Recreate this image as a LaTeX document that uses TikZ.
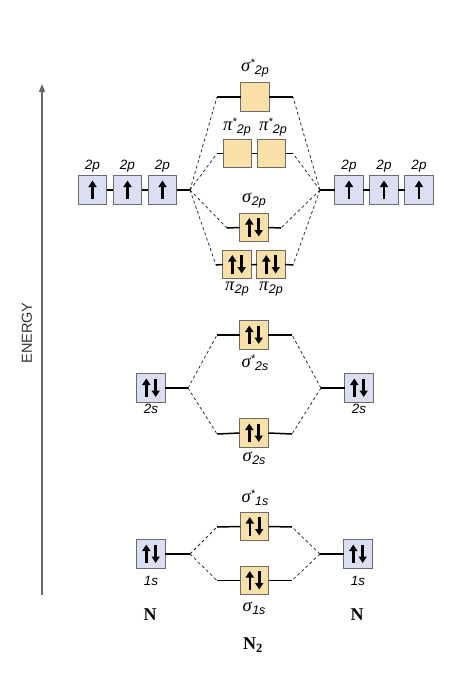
\documentclass[tikz,border=0pt]{standalone}
\usepackage{fontspec}
\setmainfont{Liberation Sans}
\newfontfamily\grfont{Liberation Serif}
\usetikzlibrary{arrows.meta}
\definecolor{aofill}{HTML}{DCDFF3}
\definecolor{mofill}{HTML}{F8E0A6}
\definecolor{boxline}{HTML}{6B6B6B}
\definecolor{axisgray}{HTML}{666666}
\newcommand\molss[3]{{\grfont\itshape #1}\kern0.4pt\raisebox{4.5pt}{\fontsize{11}{11}\selectfont #2}\kern-0.2pt\raisebox{-3pt}{\fontsize{12.5}{13}\selectfont\itshape #3}}
\newcommand\mols[2]{{\grfont\itshape #1}\kern0.6pt\raisebox{-3pt}{\fontsize{12.5}{13}\selectfont\itshape #2}}
\begin{document}
\begin{tikzpicture}[x=1pt,y=-1pt,
  orb/.style={draw=boxline, line width=0.8pt, minimum size=28.5pt, inner sep=0pt, outer sep=0pt},
  ao/.style={orb, fill=aofill},
  mo/.style={orb, fill=mofill},
  arr/.style={draw=black, line width=2.6pt, -{Triangle[width=8pt,length=6.5pt]}},
  single/.style={path picture={\draw[arr] ([yshift=-9pt]path picture bounding box.center) -- ([yshift=9.5pt]path picture bounding box.center);}},
  pair/.style={path picture={
     \draw[arr] ([xshift=-4.7pt,yshift=-9pt]path picture bounding box.center) -- ([xshift=-4.7pt,yshift=9.5pt]path picture bounding box.center);
     \draw[arr] ([xshift=4.7pt,yshift=9.5pt]path picture bounding box.center) -- ([xshift=4.7pt,yshift=-9pt]path picture bounding box.center);}},
  level/.style={line width=1.5pt, black},
  corr/.style={line width=0.75pt, black!85, dash pattern=on 3pt off 2.6pt},
  lab/.style={font=\fontsize{13.5}{15}\selectfont\itshape, inner sep=0pt},
  mol/.style={font=\fontsize{18.5}{21}\selectfont, inner sep=0pt},
  atom/.style={font=\fontsize{18}{21}\selectfont\grfont\bfseries, inner sep=0pt}
]
\useasboundingbox (0,0) rectangle (474,688);

% energy axis
\coordinate (axB) at (42,595);
\coordinate (axT) at (42,84);
\draw[axisgray, line width=1.4pt, -{Triangle[width=6pt,length=8pt]}] (axB) -- (axT);
\node[rotate=90, font=\fontsize{14.5}{16}\selectfont, text=black!80, inner sep=0pt] (energy) at (27,333) {ENERGY};

% ---------- 2p atomic ----------
\node[ao,single] (L2pa) at (92.5,190) {};
\node[ao,single] (L2pb) at (127.5,190) {};
\node[ao,single] (L2pc) at (162.5,190) {};
\coordinate (jL2p) at (190,190);
\draw[level] (L2pa.east) -- (L2pb.west) (L2pb.east) -- (L2pc.west) (L2pc.east) -- (jL2p);
\node[ao,single] (R2pa) at (349,190) {};
\node[ao,single] (R2pb) at (384,190) {};
\node[ao,single] (R2pc) at (419,190) {};
\coordinate (jR2p) at (320,190);
\draw[level] (jR2p) -- (R2pa.west) (R2pa.east) -- (R2pb.west) (R2pb.east) -- (R2pc.west);
\foreach \n/\x in {la/92.5,lb/127.5,lc/162.5,ra/349,rb/384,rc/419}
  \node[lab] (t2p\n) at (\x,166) {2p};

% ---------- 2p molecular ----------
\node[mo] (s2ps) at (255,97) {};
\coordinate (s2psL) at (217,97);
\coordinate (s2psR) at (293,97);
\draw[level] (s2psL) -- (s2ps.west) (s2ps.east) -- (s2psR);
\node[mol] (ts2ps) at (255,68) {\molss{σ}{*}{2p}};

\node[mo] (p2psA) at (237.5,153.5) {};
\node[mo] (p2psB) at (271.5,153.5) {};
\coordinate (p2psL) at (217,153.5);
\coordinate (p2psR) at (293,153.5);
\draw[level] (p2psL) -- (p2psA.west) (p2psA.east) -- (p2psB.west) (p2psB.east) -- (p2psR);
\node[mol] (tp2psA) at (237,127) {\molss{π}{*}{2p}};
\node[mol] (tp2psB) at (273,127) {\molss{π}{*}{2p}};

\node[mo,pair] (s2p) at (254,227.5) {};
\coordinate (s2pL) at (227,228);
\coordinate (s2pR) at (281,228);
\draw[level] (s2pL) -- (s2p.west) (s2p.east) -- (s2pR);
\node[mol] (ts2p) at (254,201) {\mols{σ}{2p}};

\node[mo,pair] (p2pA) at (237,264.5) {};
\node[mo,pair] (p2pB) at (271,264.5) {};
\coordinate (p2pL) at (216,265);
\coordinate (p2pR) at (293,265);
\draw[level] (p2pL) -- (p2pA.west) (p2pA.east) -- (p2pB.west) (p2pB.east) -- (p2pR);
\node[mol] (tp2pA) at (237,289) {\mols{π}{2p}};
\node[mol] (tp2pB) at (271,289) {\mols{π}{2p}};

\foreach \e in {s2psL,p2psL,s2pL,p2pL} \draw[corr] (jL2p) -- (\e);
\foreach \e in {s2psR,p2psR,s2pR,p2pR} \draw[corr] (jR2p) -- (\e);

% ---------- 2s ----------
\node[ao,pair] (L2s) at (151,388) {};
\coordinate (jL2s) at (188,388);
\draw[level] (L2s.east) -- (jL2s);
\node[lab] (tL2s) at (151,409) {2s};
\node[ao,pair] (R2s) at (359,388) {};
\coordinate (jR2s) at (321,388);
\draw[level] (jR2s) -- (R2s.west);
\node[lab] (tR2s) at (359,409) {2s};

\node[mo,pair] (s2ss) at (254,335) {};
\coordinate (s2ssL) at (217,335);
\coordinate (s2ssR) at (292,335);
\draw[level] (s2ssL) -- (s2ss.west) (s2ss.east) -- (s2ssR);
\node[mol] (ts2ss) at (255,363) {\molss{σ}{*}{2s}};

\node[mo,pair] (s2s) at (254,433) {};
\coordinate (s2sL) at (217,434);
\coordinate (s2sR) at (292,434);
\draw[level] (s2sL) -- (s2s.west) (s2s.east) -- (s2sR);
\node[mol] (ts2s) at (254,458) {\mols{σ}{2s}};

\draw[corr] (jL2s) -- (s2ssL);
\draw[corr] (jL2s) -- (s2sL);
\draw[corr] (jR2s) -- (s2ssR);
\draw[corr] (jR2s) -- (s2sR);

% ---------- 1s ----------
\node[ao,pair] (L1s) at (151,554) {};
\coordinate (jL1s) at (190,554);
\draw[level] (L1s.east) -- (jL1s);
\node[lab] (tL1s) at (151,581) {1s};
\node[ao,pair] (R1s) at (358,554) {};
\coordinate (jR1s) at (320,554);
\draw[level] (jR1s) -- (R1s.west);
\node[lab] (tR1s) at (358,581) {1s};

\node[mo,pair] (s1ss) at (254.5,526.5) {};
\coordinate (s1ssL) at (217,527);
\coordinate (s1ssR) at (292,527);
\draw[level] (s1ssL) -- (s1ss.west) (s1ss.east) -- (s1ssR);
\node[mol] (ts1ss) at (255,498) {\molss{σ}{*}{1s}};

\node[mo,pair] (s1s) at (254.5,580.5) {};
\coordinate (s1sL) at (217,580.5);
\coordinate (s1sR) at (292,580.5);
\draw[level] (s1sL) -- (s1s.west) (s1s.east) -- (s1sR);
\node[mol] (ts1s) at (254,608) {\mols{σ}{1s}};

\draw[corr] (jL1s) -- (s1ssL);
\draw[corr] (jL1s) -- (s1sL);
\draw[corr] (jR1s) -- (s1ssR);
\draw[corr] (jR1s) -- (s1sR);

% ---------- atom labels ----------
\node[atom] (NL) at (150,615) {N};
\node[atom] (NR) at (357,615) {N};
\node[atom] (N2) at (253,645) {N\textsubscript{2}};
\end{tikzpicture}
\end{document}
